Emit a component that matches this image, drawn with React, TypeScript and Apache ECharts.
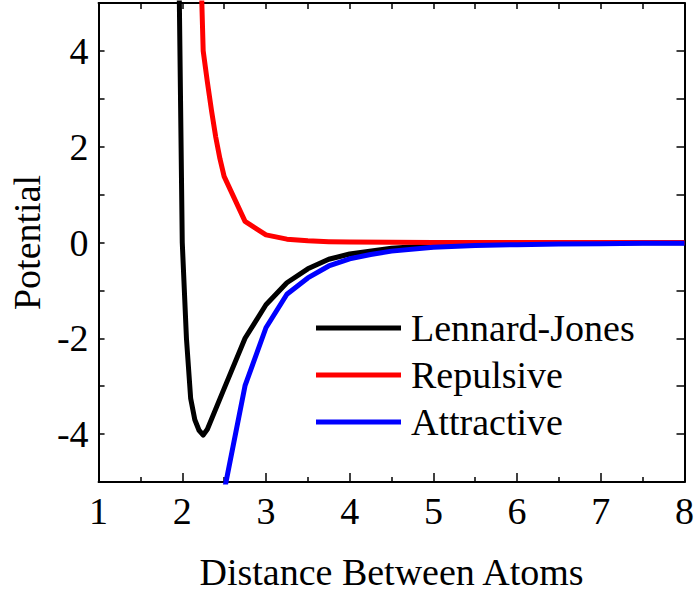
import React, { useEffect, useRef } from "react";
import * as echarts from "echarts";

const ljX = [1.95, 2.0, 2.05, 2.1, 2.15, 2.2, 2.25, 2.3, 2.5, 2.75, 3.0, 3.25, 3.5, 3.75, 4.0, 4.5, 5.0, 5.5, 6.0, 6.5, 7.0, 7.5, 8.0];
const ljY = [7.2, 0.0, -2.0, -3.25, -3.7, -3.92, -4.02, -3.9, -3.05, -2.0, -1.3, -0.84, -0.55, -0.35, -0.24, -0.12, -0.065, -0.037, -0.022, -0.014, -0.009, -0.006, -0.004];

const repX = [2.2, 2.25, 2.3, 2.35, 2.4, 2.45, 2.5, 2.75, 3.0, 3.25, 3.5, 3.75, 4.0, 4.5, 5.0, 5.5, 6.0, 7.0, 8.0];
const repY = [7.1, 4.0, 3.35, 2.75, 2.2, 1.75, 1.38, 0.44, 0.16, 0.07, 0.035, 0.018, 0.01, 0.004, 0.002, 0.001, 0.0005, 0.0002, 0.0001];

const attX = [2.5, 2.75, 3.0, 3.25, 3.5, 3.75, 4.0, 4.25, 4.5, 5.0, 5.5, 6.0, 6.5, 7.0, 7.5, 8.0];
const attY = [-5.2, -2.99, -1.78, -1.08, -0.74, -0.49, -0.34, -0.25, -0.18, -0.1, -0.065, -0.045, -0.032, -0.024, -0.018, -0.014];

const seriesNames = ["Lennard-Jones", "Repulsive", "Attractive"];
const seriesColors = ["#000000", "#ff0000", "#0000ff"];

const xTitle = "Distance Between Atoms";
const yTitle = "Potential";

const FONT = "Liberation Serif";

function pairs(xs: number[], ys: number[]) {
  return xs.map((x, i) => [x, ys[i]]);
}

export default function App() {
  const ref = useRef<HTMLDivElement>(null);
  useEffect(() => {
    if (!ref.current) return;
    const chart = echarts.init(ref.current, null, { renderer: "svg" });
    const axisLine = { show: true, onZero: false, lineStyle: { color: "#000", width: 2 } };
    const tick = { show: true, inside: true, length: 7, lineStyle: { color: "#000", width: 1.5 } };
    const minorTick = { show: true, splitNumber: 2, length: 5, lineStyle: { color: "#000", width: 1.5 } };
    const datas = [pairs(ljX, ljY), pairs(repX, repY), pairs(attX, attY)];
    chart.setOption({
      animation: false,
      backgroundColor: "#fff",
      grid: { left: 96, right: 10, top: 3, bottom: 112, containLabel: false },
      legend: {
        orient: "vertical",
        left: 316,
        top: 309,
        padding: 0,
        icon: "rect",
        itemWidth: 85,
        itemHeight: 5,
        itemGap: 9,
        textStyle: { fontFamily: FONT, fontSize: 38, color: "#000", lineHeight: 38, padding: [0, 0, 0, 5] },
        data: seriesNames,
      },
      xAxis: [
        {
          type: "value",
          min: 1,
          max: 8,
          interval: 1,
          position: "bottom",
          axisLine,
          axisTick: { ...tick, length: 9 },
          minorTick,
          splitLine: { show: false },
          axisLabel: { fontFamily: FONT, fontSize: 38, color: "#000", margin: 10 },
          name: xTitle,
          nameLocation: "middle",
          nameGap: 71,
          nameTextStyle: { fontFamily: FONT, fontSize: 38, color: "#000" },
        },
        {
          type: "value",
          min: 1,
          max: 8,
          interval: 1,
          position: "top",
          axisLine,
          axisTick: { ...tick, length: 6 },
          minorTick: { ...minorTick, length: 6 },
          splitLine: { show: false },
          axisLabel: { show: false },
        },
      ],
      yAxis: [
        {
          type: "value",
          min: -5,
          max: 5,
          interval: 1,
          position: "left",
          axisLine,
          axisTick: { ...tick, length: 6 },
          splitLine: { show: false },
          axisLabel: {
            fontFamily: FONT,
            fontSize: 38,
            color: "#000",
            margin: 10,
            formatter: (v: number) => (Math.abs(v % 2) === 0 ? String(v) : ""),
          },
          name: yTitle,
          nameLocation: "middle",
          nameGap: 50,
          nameRotate: 90,
          nameTextStyle: { fontFamily: FONT, fontSize: 38, color: "#000" },
        },
        {
          type: "value",
          min: -5,
          max: 5,
          interval: 1,
          position: "right",
          axisLine,
          axisTick: { ...tick, length: 8 },
          splitLine: { show: false },
          axisLabel: { show: false },
        },
      ],
      series: seriesNames.map((name, i) => ({
        name,
        type: "line",
        xAxisIndex: 0,
        yAxisIndex: 0,
        data: datas[i],
        showSymbol: false,
        symbol: "none",
        clip: true,
        color: seriesColors[i],
        lineStyle: { color: seriesColors[i], width: 5, join: "round" },
        z: 2 + i,
      })),
    });
    return () => chart.dispose();
  }, []);
  return <div ref={ref} style={{ width: 697, height: 596, position: "absolute", left: 0, top: 0 }} />;
}
